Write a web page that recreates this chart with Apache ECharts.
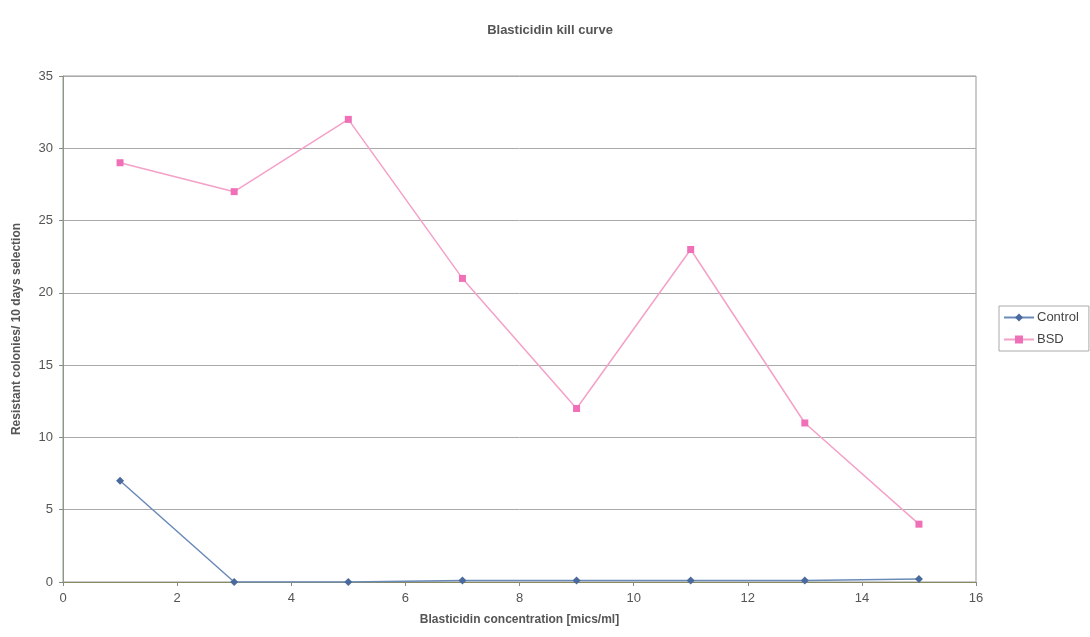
<!DOCTYPE html>
<html><head><meta charset="utf-8">
<script src="https://cdn.jsdelivr.net/npm/echarts@6/dist/echarts.min.js"></script>
<style>html,body{margin:0;padding:0;background:#fff}#c{width:1090px;height:637px}</style>
</head><body><div id="c"></div>
<script>
const concentrations = [1, 3, 5, 7, 9, 11, 13, 15];
const controlValues = [7, 0, 0, 0.1, 0.1, 0.1, 0.1, 0.2];
const bsdValues = [29, 27, 32, 21, 12, 23, 11, 4];
const xTicks = [0, 2, 4, 6, 8, 10, 12, 14, 16];
const yTicks = [0, 5, 10, 15, 20, 25, 30, 35];

const chart = echarts.init(document.getElementById('c'));
const font = 'Liberation Sans, Arial, sans-serif';
chart.setOption({
  animation: false,
  title: {
    text: 'Blasticidin kill curve', left: 545, top: 19, textAlign: 'center',
    textStyle: {fontFamily: font, fontSize: 13, fontWeight: 'bold', color: '#555'}
  },
  grid: {left: 63, right: 114, top: 76, bottom: 55, show: true, borderColor: '#999', borderWidth: 1},
  legend: {
    orient: 'vertical', left: 999, top: 306, itemGap: 9, itemWidth: 30, itemHeight: 10,
    padding: [5, 10, 5, 4], borderColor: '#aaa', borderWidth: 1,
    textStyle: {fontFamily: font, fontSize: 13, color: '#444', padding: [0, 0, 0, -2]},
    data: ['Control', 'BSD']
  },
  xAxis: {
    type: 'value', min: 0, max: 16, interval: 2,
    name: 'Blasticidin concentration [mics/ml]', nameLocation: 'middle', nameGap: 32,
    nameTextStyle: {fontFamily: font, fontSize: 12, fontWeight: 'bold', color: '#555'},
    axisLine: {lineStyle: {color: '#8a8a60'}},
    axisTick: {show: true, length: 4, lineStyle: {color: '#888'}},
    axisLabel: {fontFamily: font, fontSize: 13, color: '#555', margin: 10,
      formatter: v => xTicks.includes(v) ? String(v) : ''},
    splitLine: {show: false}
  },
  yAxis: {
    type: 'value', min: 0, max: 35, interval: 5,
    name: 'Resistant colonies/ 10 days selection', nameLocation: 'middle', nameGap: 40,
    nameTextStyle: {fontFamily: font, fontSize: 12, fontWeight: 'bold', color: '#555'},
    axisLine: {show: true, lineStyle: {color: '#8a9a80'}},
    axisTick: {show: true, length: 4, lineStyle: {color: '#888'}},
    axisLabel: {fontFamily: font, fontSize: 13, color: '#555', margin: 10,
      formatter: v => yTicks.includes(v) ? String(v) : ''},
    splitLine: {show: true, lineStyle: {color: '#aaa', width: 1}}
  },
  series: [
    {name: 'Control', type: 'line', symbol: 'diamond', symbolSize: 8,
     data: concentrations.map((x, i) => [x, controlValues[i]]),
     lineStyle: {color: '#6a8ab8', width: 1.5}, itemStyle: {color: '#4a6a9e'}},
    {name: 'BSD', type: 'line', symbol: 'rect', symbolSize: 7,
     data: concentrations.map((x, i) => [x, bsdValues[i]]),
     lineStyle: {color: '#f4a0c8', width: 1.5}, itemStyle: {color: '#f070b8'}}
  ]
});
</script></body></html>
